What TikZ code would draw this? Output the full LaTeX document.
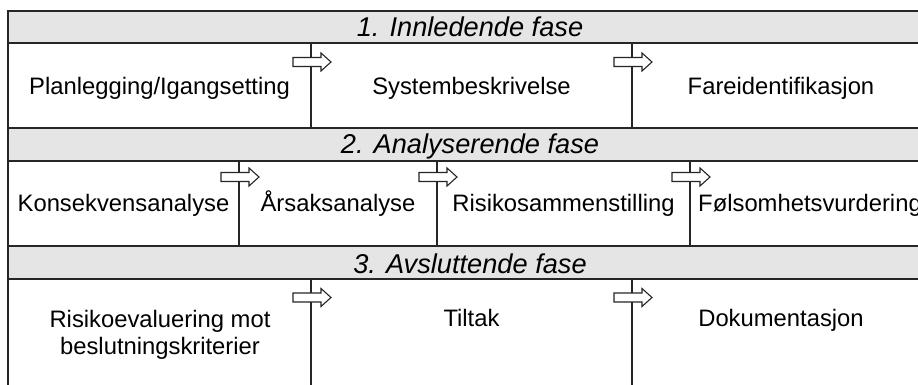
\documentclass[tikz,border=0pt]{standalone}
\usepackage{fontspec}
\setmainfont{Liberation Sans}
\usetikzlibrary{calc}
\tikzset{
  frame/.style={draw=black!85, line width=0.65pt},
  hdr/.style={frame, fill=black!10},
  hdrtext/.style={anchor=base, inner sep=0pt, font=\fontsize{13.6}{16}\selectfont\itshape},
  celltext/.style={anchor=base, inner sep=0pt, align=center, font=\fontsize{11.9}{13.7}\selectfont},
  blkarrow/.style={draw=black!85, line width=0.55pt, fill=white, line join=miter}
}
\newcommand\flowarrow[1]{%
  \draw[blkarrow, shift={(#1)}] (-18,-4.5) -- (10,-4.5) -- (10,-9) -- (20,0) -- (10,9) -- (10,4.5) -- (-18,4.5) -- cycle;}
\begin{document}
\begin{tikzpicture}[x=0.5pt, y=-0.5pt]
  \fill[white] (0,0) rectangle (918,385);
  \useasboundingbox (0,0) rectangle (918,385);
  \clip (0,0) rectangle (918,385);
  % phase 1
  \draw[hdr] (8,11) rectangle (935,43);
  \draw[frame] (8,43) rectangle (935,128);
  \draw[frame] (311,43) -- (311,128);
  \draw[frame] (632,43) -- (632,128);
  % phase 2
  \draw[hdr] (8,128) rectangle (935,161);
  \draw[frame] (8,161) rectangle (935,246);
  \draw[frame] (239,161) -- (239,246);
  \draw[frame] (437,161) -- (437,246);
  \draw[frame] (690,161) -- (690,246);
  % phase 3
  \draw[hdr] (8,246) rectangle (935,279);
  \draw[frame] (8,279) -- (8,400);
  \draw[frame] (311,279) -- (311,400);
  \draw[frame] (632,279) -- (632,400);
  % headers
  \node[hdrtext] (h1) at (470,37) {1. Innledende fase};
  \node[hdrtext] (h2) at (470,154) {2. Analyserende fase};
  \node[hdrtext] (h3) at (470,274) {3. Avsluttende fase};
  % row 1
  \node[celltext] (plan) at (159.5,95) {Planlegging/Igangsetting};
  \node[celltext] (sys) at (471.5,95) {Systembeskrivelse};
  \node[celltext] (fare) at (781,95) {Fareidentifikasjon};
  % row 2
  \node[celltext] (kons) at (123.5,212) {Konsekvensanalyse};
  \node[celltext] (aars) at (338,212) {Årsaksanalyse};
  \node[celltext] (risk) at (563.5,212) {Risikosammenstilling};
  \node[celltext] (fols) at (810,212) {Følsomhetsvurdering};
  % row 3
  \node[celltext] (eval) at (160,355) {Risikoevaluering mot\\beslutningskriterier};
  \node[celltext] (tilt) at (471.5,327) {Tiltak};
  \node[celltext] (dok) at (781,327) {Dokumentasjon};
  % arrows
  \coordinate (a1) at (311,62);
  \coordinate (a2) at (632,62);
  \coordinate (b1) at (239,177);
  \coordinate (b2) at (437,177);
  \coordinate (b3) at (690,177);
  \coordinate (c1) at (311,297.5);
  \coordinate (c2) at (632,297.5);
  \flowarrow{a1}\flowarrow{a2}
  \flowarrow{b1}\flowarrow{b2}\flowarrow{b3}
  \flowarrow{c1}\flowarrow{c2}
\end{tikzpicture}
\end{document}
